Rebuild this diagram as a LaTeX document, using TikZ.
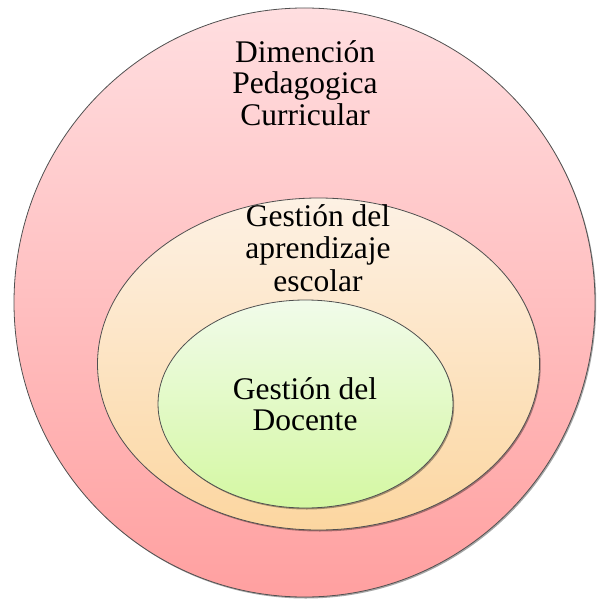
\documentclass[tikz,border=0pt]{standalone}
\usepackage{fontspec}
\setmainfont{Liberation Serif}
\newfontfamily\timesfam{Liberation Serif}
\usetikzlibrary{shapes.geometric,shadows}
\definecolor{outerTop}{HTML}{FFDEE0}
\definecolor{outerBot}{HTML}{FFA0A0}
\definecolor{midTop}{HTML}{FDF1E4}
\definecolor{midBot}{HTML}{FCD6A0}
\definecolor{innTop}{HTML}{F1FBEA}
\definecolor{innBot}{HTML}{D4F8A2}
\definecolor{edge}{HTML}{505050}
\tikzset{
  ring/.style={ellipse, draw=edge, line width=0.8pt, inner sep=0pt,
    drop shadow={shadow xshift=1.2pt, shadow yshift=-1.5pt, opacity=0.35, fill=black}},
  lbl/.style={align=center, inner sep=0pt, font=\timesfam\fontsize{31.5}{31.5}\selectfont}
}
\begin{document}
\begin{tikzpicture}[x=1pt,y=-1pt]
\useasboundingbox (0,0) rectangle (597,601);
\node[ring, minimum width=581pt, minimum height=589pt, top color=outerTop, bottom color=outerBot] (outer) at (304.5,302.5) {};
\node[ring, minimum width=442pt, minimum height=332pt, top color=midTop, bottom color=midBot] (mid) at (318.5,364) {};
\node[ring, minimum width=295pt, minimum height=208pt, top color=innTop, bottom color=innBot] (inner) at (305.5,404) {};
\node[lbl] (touter) at (305,83) {Dimención\\Pedagogica\\Curricular};
\node[lbl, font=\timesfam\fontsize{31.5}{32.5}\selectfont] (tmid) at (318,248) {Gestión del\\aprendizaje\\escolar};
\node[lbl] (tinner) at (305,404) {Gestión del\\Docente};
\end{tikzpicture}
\end{document}
